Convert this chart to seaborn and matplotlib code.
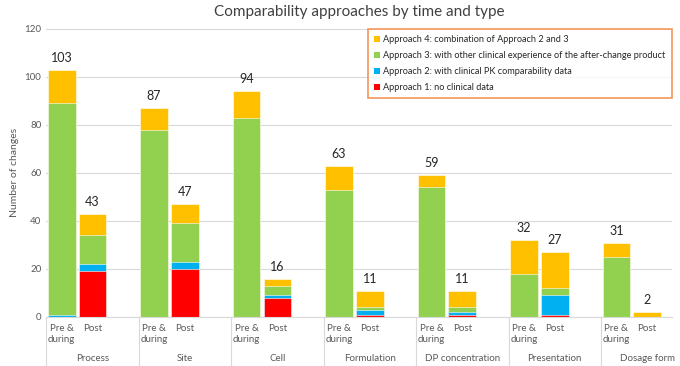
# Comparability approaches by time and type - stacked bars (seaborn)
import numpy as np
import pandas as pd
import matplotlib.pyplot as plt
import seaborn as sns
from matplotlib.patches import Patch
from matplotlib.transforms import blended_transform_factory

# 1) data
groups = ["Process", "Site", "Cell", "Formulation", "DP concentration",
          "Presentation", "Dosage form"]
phases = ["Pre &\nduring", "Post"]

# Pre & during
pre_a1 = [0, 0, 0, 0, 0, 0, 0]
pre_a2 = [1, 0, 0, 0, 0, 0, 0]
pre_a3 = [88, 78, 83, 53, 54, 18, 25]
pre_a4 = [14, 9, 11, 10, 5, 14, 6]
# Post
post_a1 = [19, 20, 8, 1, 1, 1, 0]
post_a2 = [3, 3, 1, 2, 1, 8, 0]
post_a3 = [12, 16, 4, 1, 2, 3, 0]
post_a4 = [9, 8, 3, 7, 7, 15, 2]

legend_labels = ["Approach 4: combination of Approach 2 and 3",
                 "Approach 3: with other clinical experience of the after-change product",
                 "Approach 2: with clinical PK comparability data",
                 "Approach 1: no clinical data"]
colors = ["#FFC000", "#92D050", "#00B0F0", "#FF0000"]  # A4, A3, A2, A1

# 2) tidy table: one row per bar, slots with a blank slot between groups
rows = []
for g, name in enumerate(groups):
    for p, vals in enumerate([(pre_a1, pre_a2, pre_a3, pre_a4),
                              (post_a1, post_a2, post_a3, post_a4)]):
        a1, a2, a3, a4 = (v[g] for v in vals)
        rows.append({"group": name, "phase": phases[p], "pos": 3 * g + p,
                     "a1": a1, "a2": a2, "a3": a3, "a4": a4})
df = pd.DataFrame(rows)
df["c1"] = df["a1"]
df["c2"] = df["c1"] + df["a2"]
df["c3"] = df["c2"] + df["a3"]
df["c4"] = df["c3"] + df["a4"]

# 3) plot
sns.set_style("white")
plt.rcParams["font.family"] = ["Lato", "DejaVu Sans"]
fig, ax = plt.subplots(figsize=(6.8, 3.66), dpi=100)
fig.subplots_adjust(left=0.068, right=0.988, bottom=0.134, top=0.921)

# cumulative heights drawn from top layer down -> stacked look
for col, c in zip(["c4", "c3", "c2", "c1"], colors):
    sns.barplot(data=df, x="pos", y=col, native_scale=True, color=c,
                saturation=1, width=0.9, edgecolor="white", linewidth=0.4,
                errorbar=None, ax=ax)

# totals above bars
for _, r in df.iterrows():
    ax.text(r["pos"], r["c4"] + 2.5, f"{r['c4']}", ha="center", va="bottom",
            fontsize=9, color="#262626")

ax.set_xlim(-0.5, 19.8)
ax.set_ylim(0, 120)
ax.set_yticks(range(0, 121, 20))
ax.yaxis.grid(True, color="#D9D9D9", linewidth=0.8)
ax.set_axisbelow(True)
for s in ["top", "right", "left"]:
    ax.spines[s].set_visible(False)
ax.spines["bottom"].set_color("#D9D9D9")

ax.set_xticks(df["pos"])
ax.set_xticklabels(df["phase"], fontsize=7, color="#595959", linespacing=1.3)
ax.tick_params(axis="x", length=0, pad=5)
ax.tick_params(axis="y", length=0, labelsize=7, labelcolor="#595959")
ax.set_xlabel("")
ax.set_ylabel("Number of changes", fontsize=7.5, color="#595959")

# group labels and separators under the axis
trans = blended_transform_factory(ax.transData, ax.transAxes)
for g, name in enumerate(groups):
    ax.text(3 * g + 1, -0.143, name, transform=trans, ha="center", va="center",
            fontsize=7, color="#595959")
for b in [3 * g - 0.5 for g in range(len(groups))]:
    ax.plot([b, b], [0, -0.175], transform=trans, color="#D9D9D9",
            linewidth=0.8, clip_on=False)

ax.set_title("Comparability approaches by time and type", fontsize=11,
             color="#404040", pad=9)

handles = [Patch(facecolor=c, edgecolor="none") for c in colors]
leg = ax.legend(handles, legend_labels, loc="upper right",
                bbox_to_anchor=(1.0, 1.0), borderaxespad=0, fontsize=6.6,
                handlelength=0.7, handleheight=0.7, handletextpad=0.3,
                labelspacing=0.75, borderpad=0.7, fancybox=False,
                frameon=True)
leg.get_frame().set_edgecolor("#ED7D31")
leg.get_frame().set_linewidth(1.2)
for t in leg.get_texts():
    t.set_color("#262626")

plt.savefig("out.png", dpi=100)
